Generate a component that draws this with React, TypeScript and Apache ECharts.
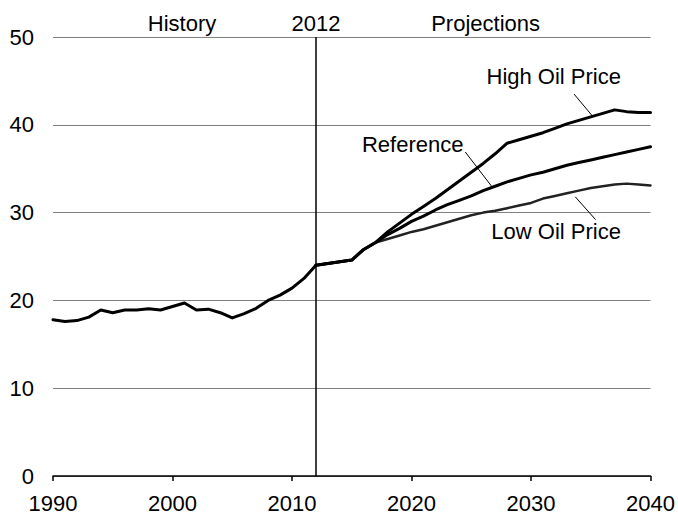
import React, { useEffect, useRef } from "react";
import * as echarts from "echarts";

const historyYears = [1990, 1991, 1992, 1993, 1994, 1995, 1996, 1997, 1998, 1999, 2000, 2001, 2002, 2003, 2004, 2005, 2006, 2007, 2008, 2009, 2010, 2011, 2012];
const historyValues = [17.8, 17.6, 17.7, 18.1, 18.9, 18.6, 18.9, 18.9, 19.05, 18.9, 19.3, 19.7, 18.9, 19.0, 18.6, 18.0, 18.5, 19.1, 20.0, 20.6, 21.4, 22.5, 24.0];

const projYears = [2012, 2013, 2014, 2015, 2016, 2017, 2018, 2019, 2020, 2021, 2022, 2023, 2024, 2025, 2026, 2027, 2028, 2029, 2030, 2031, 2032, 2033, 2034, 2035, 2036, 2037, 2038, 2039, 2040];
const highValues = [24.0, 24.2, 24.4, 24.6, 25.8, 26.6, 27.8, 28.8, 29.8, 30.7, 31.6, 32.6, 33.6, 34.6, 35.6, 36.7, 37.9, 38.3, 38.7, 39.1, 39.6, 40.1, 40.5, 40.9, 41.3, 41.7, 41.5, 41.4, 41.4];
const referenceValues = [24.0, 24.2, 24.4, 24.6, 25.8, 26.6, 27.5, 28.2, 29.0, 29.6, 30.3, 30.9, 31.4, 31.9, 32.5, 33.0, 33.5, 33.9, 34.3, 34.6, 35.0, 35.4, 35.7, 36.0, 36.3, 36.6, 36.9, 37.2, 37.5];
const lowValues = [24.0, 24.2, 24.4, 24.6, 25.8, 26.6, 27.0, 27.4, 27.8, 28.1, 28.5, 28.9, 29.3, 29.7, 30.0, 30.2, 30.5, 30.8, 31.1, 31.6, 31.9, 32.2, 32.5, 32.8, 33.0, 33.2, 33.3, 33.2, 33.1];

const xTicks = { min: 1990, max: 2040, interval: 10 };
const yTicks = { min: 0, max: 50, interval: 10 };
const dividerYear = 2012;

// annotations in data coordinates
const headerLabels = [
  { text: "History", at: [2000.8, 51.5] },
  { text: "2012", at: [2012.0, 51.5] },
  { text: "Projections", at: [2026.2, 51.5] },
];
const seriesLabels = [
  { text: "High Oil Price", at: [2031.9, 45.5], from: [2033.6, 43.5], to: [2035.2, 40.9] },
  { text: "Reference", at: [2020.1, 37.7], from: [2024.5, 36.9], to: [2026.7, 33.0] },
  { text: "Low Oil Price", at: [2032.1, 27.8], from: [2033.7, 31.8], to: [2035.4, 29.2] },
];

const FONT = '"Liberation Sans", Arial, Helvetica, sans-serif';
const FS = 22;

function zip(xs: number[], ys: number[]) {
  return xs.map((x, i) => [x, ys[i]]);
}

export default function App() {
  const ref = useRef<HTMLDivElement>(null);
  useEffect(() => {
    if (!ref.current) return;
    const chart = echarts.init(ref.current, null, { renderer: "svg" });
    const lineSeries = (name: string, data: number[][], width: number, color: string, z: number) => ({
      name,
      type: "line",
      data,
      symbol: "none",
      z,
      lineStyle: { color, width, join: "round", cap: "round" },
    });
    chart.setOption({
      animation: false,
      backgroundColor: "#fff",
      textStyle: { fontFamily: FONT },
      grid: { left: 53, right: 26, top: 37, bottom: 37 },
      xAxis: {
        type: "value",
        min: xTicks.min,
        max: xTicks.max,
        interval: xTicks.interval,
        axisLine: { show: true, lineStyle: { color: "#000", width: 1.5 } },
        axisTick: { show: true, length: 5, lineStyle: { color: "#000", width: 1.5 } },
        axisLabel: { color: "#000", fontSize: FS, fontFamily: FONT, margin: 16, formatter: (v: number) => String(v) },
        splitLine: { show: false },
      },
      yAxis: {
        type: "value",
        min: yTicks.min,
        max: yTicks.max,
        interval: yTicks.interval,
        axisLine: { show: false },
        axisTick: { show: false },
        axisLabel: { color: "#000", fontSize: FS, fontFamily: FONT, margin: 19 },
        splitLine: { show: true, lineStyle: { color: "#808080", width: 1 } },
      },
      series: [
        lineSeries("Low Oil Price", zip(projYears, lowValues), 2.5, "#222", 2),
        lineSeries("Reference", zip(projYears, referenceValues), 3, "#000", 3),
        lineSeries("High Oil Price", zip(projYears, highValues), 3, "#000", 4),
        {
          ...lineSeries("History", zip(historyYears, historyValues), 3, "#000", 5),
          markLine: {
            silent: true,
            symbol: "none",
            label: { show: false },
            lineStyle: { color: "#000", width: 1.5, type: "solid" },
            data: [{ xAxis: dividerYear }],
          },
        },
      ],
    });
    const px = (p: number[]) => chart.convertToPixel({ gridIndex: 0 }, p) as number[];
    const graphic: any[] = [];
    headerLabels.concat(seriesLabels as any).forEach((l: any) => {
      const [x, y] = px(l.at);
      graphic.push({
        type: "text",
        x,
        y,
        style: { text: l.text, fill: "#000", font: `${FS}px ${FONT}`, align: "center", verticalAlign: "middle" },
        z: 10,
      });
    });
    seriesLabels.forEach((l) => {
      const [x1, y1] = px(l.from);
      const [x2, y2] = px(l.to);
      graphic.push({ type: "line", shape: { x1, y1, x2, y2 }, style: { stroke: "#000", lineWidth: 1 }, z: 10 });
    });
    chart.setOption({ graphic });
    return () => chart.dispose();
  }, []);
  return <div ref={ref} style={{ position: "fixed", left: 0, top: 0, width: 678, height: 514, background: "#fff" }} />;
}
